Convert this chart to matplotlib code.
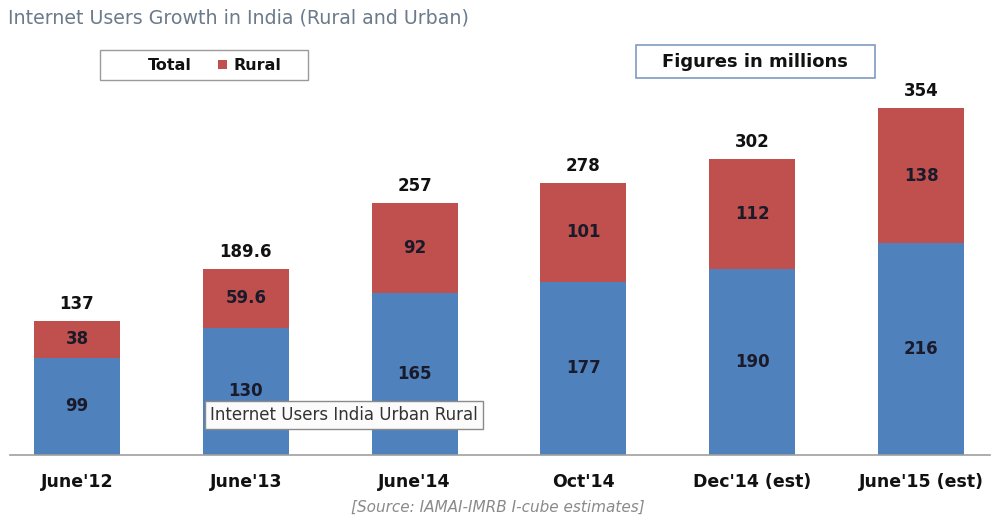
import matplotlib.pyplot as plt
from matplotlib.patches import Rectangle

# data (millions)
periods = ["June'12", "June'13", "June'14", "Oct'14", "Dec'14 (est)", "June'15 (est)"]
urban = [99, 130, 165, 177, 190, 216]
rural = [38, 59.6, 92, 101, 112, 138]
total = [137, 189.6, 257, 278, 302, 354]
urban_labels = ["99", "130", "165", "177", "190", "216"]
rural_labels = ["38", "59.6", "92", "101", "112", "138"]
total_labels = ["137", "189.6", "257", "278", "302", "354"]

BLUE = '#4F81BD'
RED = '#C0504D'
W, H = 996, 527

fig = plt.figure(figsize=(9.96, 5.27), dpi=100)
ax = fig.add_axes([10 / W, 72 / H, 980 / W, 392 / H])

x = list(range(len(periods)))
ax.bar(x, urban, width=0.51, color=BLUE)
ax.bar(x, rural, width=0.51, bottom=urban, color=RED)

for i in x:
    ax.text(i, urban[i] / 2, urban_labels[i], ha='center', va='center',
            fontsize=12, fontweight='bold', color='#1a1a2a')
    ax.text(i, urban[i] + rural[i] / 2, rural_labels[i], ha='center', va='center',
            fontsize=12, fontweight='bold', color='#1a1a2a')
    ax.text(i, total[i] + 8, total_labels[i], ha='center', va='bottom',
            fontsize=12, fontweight='bold', color='#111111')

ax.set_xlim((10 - 77) / 168.8, (990 - 77) / 168.8)
ax.set_ylim(0, 400)
for s in ['top', 'right', 'left']:
    ax.spines[s].set_visible(False)
ax.spines['bottom'].set_color('#a0a0a0')
ax.spines['bottom'].set_linewidth(1.2)
ax.set_yticks([])
ax.set_xticks(x)
ax.set_xticklabels(periods, fontsize=12.5, fontweight='bold', color='#111111')
ax.tick_params(axis='x', length=0, pad=13)

# title
fig.text(8 / W, 1 - 18 / H, 'Internet Users Growth in India (Rural and Urban)',
         fontsize=13.7, color='#6b7b8c', ha='left', va='center')

# legend box
fig.patches.append(Rectangle((100 / W, 1 - 80 / H), 208 / W, 30 / H, transform=fig.transFigure,
                             facecolor='white', edgecolor='#9a9a9a', linewidth=1))
fig.text(148 / W, 1 - 65 / H, 'Total', fontsize=11.5, fontweight='bold',
         ha='left', va='center', color='#111111')
fig.patches.append(Rectangle((218 / W, 1 - 69 / H), 9 / W, 9 / H, transform=fig.transFigure,
                             facecolor=RED, edgecolor='none'))
fig.text(233 / W, 1 - 65 / H, 'Rural', fontsize=11.5, fontweight='bold',
         ha='left', va='center', color='#111111')

# units box
fig.patches.append(Rectangle((636 / W, 1 - 78 / H), 239 / W, 33 / H, transform=fig.transFigure,
                             facecolor='white', edgecolor='#7f9bbf', linewidth=1.2))
fig.text(755 / W, 1 - 62 / H, 'Figures in millions', fontsize=13, fontweight='bold',
         ha='center', va='center', color='#111111')

# tooltip
fig.text(210 / W, 1 - 415 / H, 'Internet Users India Urban Rural', fontsize=12,
         ha='left', va='center', color='#333333',
         bbox=dict(boxstyle='square,pad=0.3', facecolor='#fbfbfb', edgecolor='#8a8a8a', linewidth=1))

# source
fig.text(498 / W, 1 - 507 / H, '[Source: IAMAI-IMRB I-cube estimates]', fontsize=11,
         style='italic', color='#8a8a8a', ha='center', va='center')

fig.savefig('out.png', dpi=100)
